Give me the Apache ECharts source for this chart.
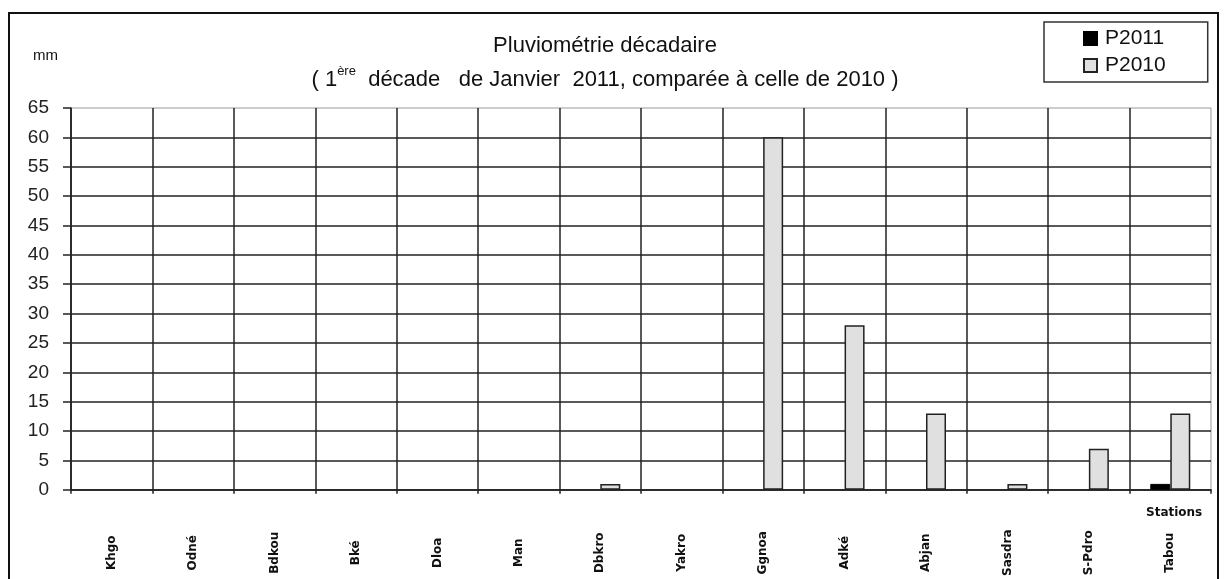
<!DOCTYPE html>
<html>
<head>
<meta charset="utf-8">
<script src="https://cdn.jsdelivr.net/npm/echarts@6/dist/echarts.min.js"></script>
<style>html,body{margin:0;padding:0;background:#fff}#c{width:1232px;height:579px}</style>
</head>
<body>
<div id="c"></div>
<script>
const stations = ["Khgo","Odné","Bdkou","Bké","Dloa","Man","Dbkro","Yakro","Ggnoa","Adké","Abjan","Sasdra","S-Pdro","Tabou"];
const p2011 = [0,0,0,0,0,0,0,0,0,0,0,0,0,1];
const p2010 = [0,0,0,0,0,0,1,0,60,28,13,1,7,13];
const yTicks = {min:0, max:65, interval:5};

// zero values are not drawn as visible bars in the original chart
const asBars = arr => arr.map(v => v === 0 ? null : v);

const chart = echarts.init(document.getElementById('c'), null, {renderer:'canvas'});
const F = '"Liberation Sans", Arial, sans-serif';
chart.setOption({
  animation:false,
  backgroundColor:'#fff',
  title:{
    text:'Pluviométrie décadaire',
    subtext:'{n|( 1}{s|ère}{n|  décade   de Janvier  2011, comparée à celle de 2010 )}',
    left:600, textAlign:'center', top:30, itemGap:8,
    textStyle:{fontFamily:F, fontSize:22, fontWeight:'normal', color:'#111'},
    subtextStyle:{rich:{
      n:{fontFamily:F, fontSize:22, color:'#111', verticalAlign:'bottom', lineHeight:26},
      s:{fontFamily:F, fontSize:13, color:'#111', verticalAlign:'top', lineHeight:26, padding:[0,0,11,0]}
    }}
  },
  legend:{
    orient:'vertical', left:1044, top:22,
    padding:[6,42,6,39], itemGap:6, itemWidth:13, itemHeight:13,
    icon:'rect',
    borderColor:'#333', borderWidth:1.5,
    textStyle:{fontFamily:F, fontSize:21, color:'#111', padding:[0,0,0,3]},
    data:['P2011','P2010']
  },
  grid:{left:71, right:21, top:108, bottom:87, show:true, borderColor:'#999', borderWidth:1, containLabel:false},
  xAxis:{
    type:'category', data:stations,
    axisLine:{lineStyle:{color:'#222', width:1.5}},
    axisTick:{show:true, length:4, lineStyle:{color:'#222', width:1.5}},
    splitLine:{show:true, showMaxLine:false, lineStyle:{color:'#222', width:1.5}},
    axisLabel:{rotate:90, align:'center', margin:63, fontFamily:'"DejaVu Sans", sans-serif', fontWeight:'bold', fontSize:12, color:'#111'}
  },
  yAxis:{
    type:'value', min:yTicks.min, max:yTicks.max, interval:yTicks.interval,
    name:'mm', nameLocation:'end', nameGap:45,
    nameTextStyle:{fontFamily:F, fontSize:15, color:'#111', align:'left', padding:[0,0,0,-38]},
    axisLine:{show:true, lineStyle:{color:'#222', width:1.5}},
    axisTick:{show:true, length:8, lineStyle:{color:'#222', width:1.5}},
    splitLine:{show:true, showMaxLine:false, lineStyle:{color:'#222', width:1.5}},
    axisLabel:{margin:22, fontFamily:F, fontSize:19, color:'#222'}
  },
  series:[
    {name:'P2011', type:'bar', data:asBars(p2011), barWidth:20, barGap:'0%',
     itemStyle:{color:'#000', borderColor:'#000', borderWidth:1}},
    {name:'P2010', type:'bar', data:asBars(p2010), barWidth:20, barGap:'0%',
     itemStyle:{color:'#e0e0e0', borderColor:'#222', borderWidth:1.5}}
  ],
  graphic:[
    {type:'rect', shape:{x:9, y:13, width:1209, height:600}, style:{fill:null, stroke:'#111', lineWidth:2}, silent:true},
    {type:'text', left:1146, top:507, style:{text:'Stations', font:'bold 12px "DejaVu Sans", sans-serif', fill:'#111'}}
  ]
});
</script>
</body>
</html>
